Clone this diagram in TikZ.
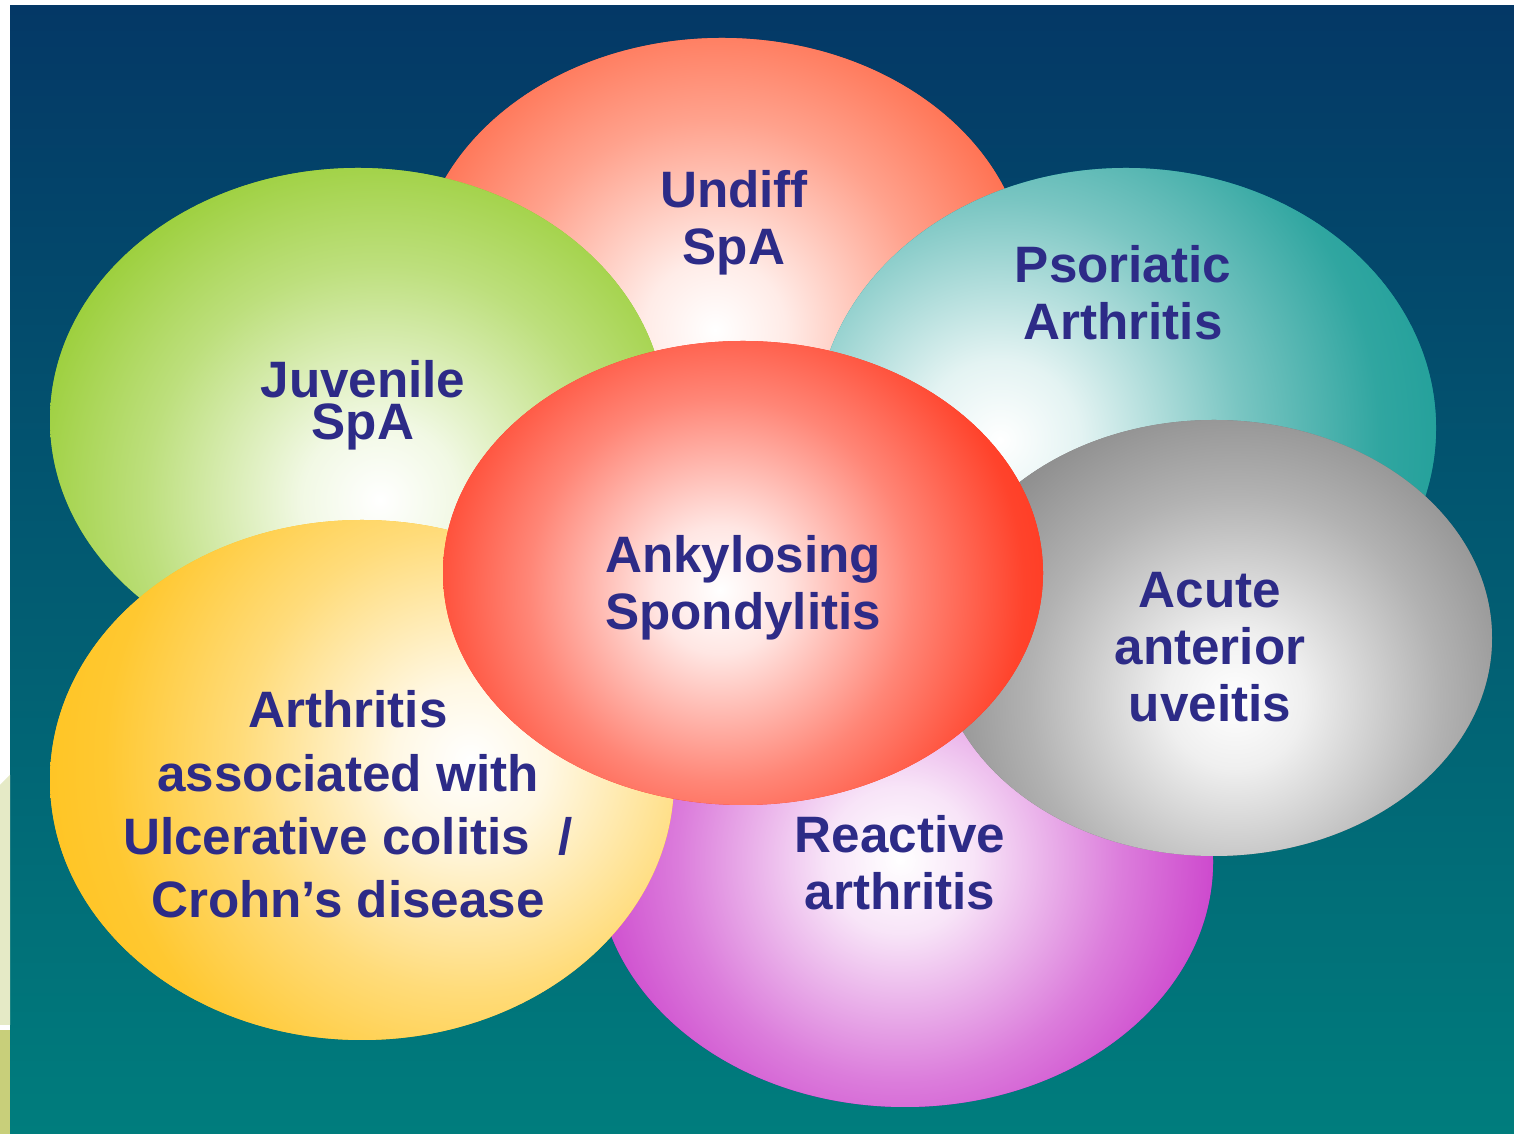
\documentclass[tikz,border=0pt]{standalone}
\usepackage{fontspec}
\setmainfont{Liberation Sans}
\definecolor{bgtop}{HTML}{043866}
\definecolor{bgbot}{HTML}{007D7D}
\definecolor{txt}{HTML}{2D2B87}
\definecolor{cundiff}{HTML}{FF5E3A}
\definecolor{cjuv}{HTML}{8DC81E}
\definecolor{cpso}{HTML}{199C96}
\definecolor{cgray}{HTML}{7A7A7A}
\definecolor{cmag}{HTML}{C21FC2}
\definecolor{cyel}{HTML}{FFC21A}
\definecolor{cred}{HTML}{FF2E14}
\definecolor{stripa}{HTML}{E5EAC6}
\definecolor{stripb}{HTML}{C8CF7A}
\definecolor{ballc}{HTML}{FF0000}
\pgfdeclareradialshading[ballc]{hilite}{\pgfpointorigin}{%
  color(0bp)=(white); color(4bp)=(ballc!12!white); color(12bp)=(ballc!58!white);
  color(19bp)=(ballc!90!white); color(25bp)=(ballc); color(50bp)=(ballc)}
% #1 cx, #2 cy, #3 rx, #4 ry, #5 colour, #6 hx, #7 hy, #8 gradient radius
\newcommand\Ball[8]{%
  \fill[#5] (#1,1134-#2) ellipse[x radius=#3, y radius=#4];
  \begin{scope}
    \clip (#1,1134-#2) ellipse[x radius=#3, y radius=#4];
    \colorlet{ballc}{#5}%
    \shade[shading=hilite] (#6,1134-#7) circle[radius=2*#8];
  \end{scope}}
\tikzset{lbl/.style={text=txt, align=center, anchor=base, inner sep=0pt,
  font=\fontsize{25.6}{28.5}\selectfont\bfseries}}
\begin{document}
\begin{tikzpicture}[x=0.5pt, y=0.5pt]
\useasboundingbox (0,0) rectangle (1514,1134);
\fill[white] (0,0) rectangle (1514,1134);
\shade[top color=bgtop, bottom color=bgbot] (10,0) rectangle (1514,1128);
\fill[stripa] (0,1134-785) -- (10,1134-775) -- (10,1134-1025) -- (0,1134-1025) -- cycle;
\fill[stripb] (0,0) rectangle (10,1134-1030);
% ellipses, back to front
\Ball{722}{280}{305}{242}{cundiff}{715}{330}{220}
\Ball{358}{420}{308}{252}{cjuv}{380}{500}{245}
\Ball{1126}{428}{310}{260}{cpso}{1000}{440}{250}
\Ball{905}{862}{308}{245}{cmag}{900}{860}{230}
\Ball{362}{780}{312}{260}{cyel}{470}{760}{240}
\Ball{1214}{638}{278}{218}{cgray}{1235}{700}{215}
\Ball{743}{573}{300}{232}{cred}{720}{590}{200}
% labels
\node[lbl] (undiff) at (734,1134-265) {Undiff\\SpA};
\node[lbl] (pso) at (1123,1134-340) {Psoriatic\\Arthritis};
\node[lbl, font=\fontsize{25.6}{21}\selectfont\bfseries] (juv) at (363,1134-440) {Juvenile\\SpA};
\node[lbl] (as) at (743,1134-630) {Ankylosing\\Spondylitis};
\node[lbl] (aau) at (1210,1134-722) {Acute\\anterior\\uveitis};
\node[lbl] (rea) at (900,1134-910) {Reactive\\arthritis};
\node[lbl, font=\fontsize{25.6}{31.7}\selectfont\bfseries] (ibd) at (348,1134-918) {Arthritis\\associated with\\Ulcerative colitis~~/\\Crohn’s disease};
\end{tikzpicture}
\end{document}
